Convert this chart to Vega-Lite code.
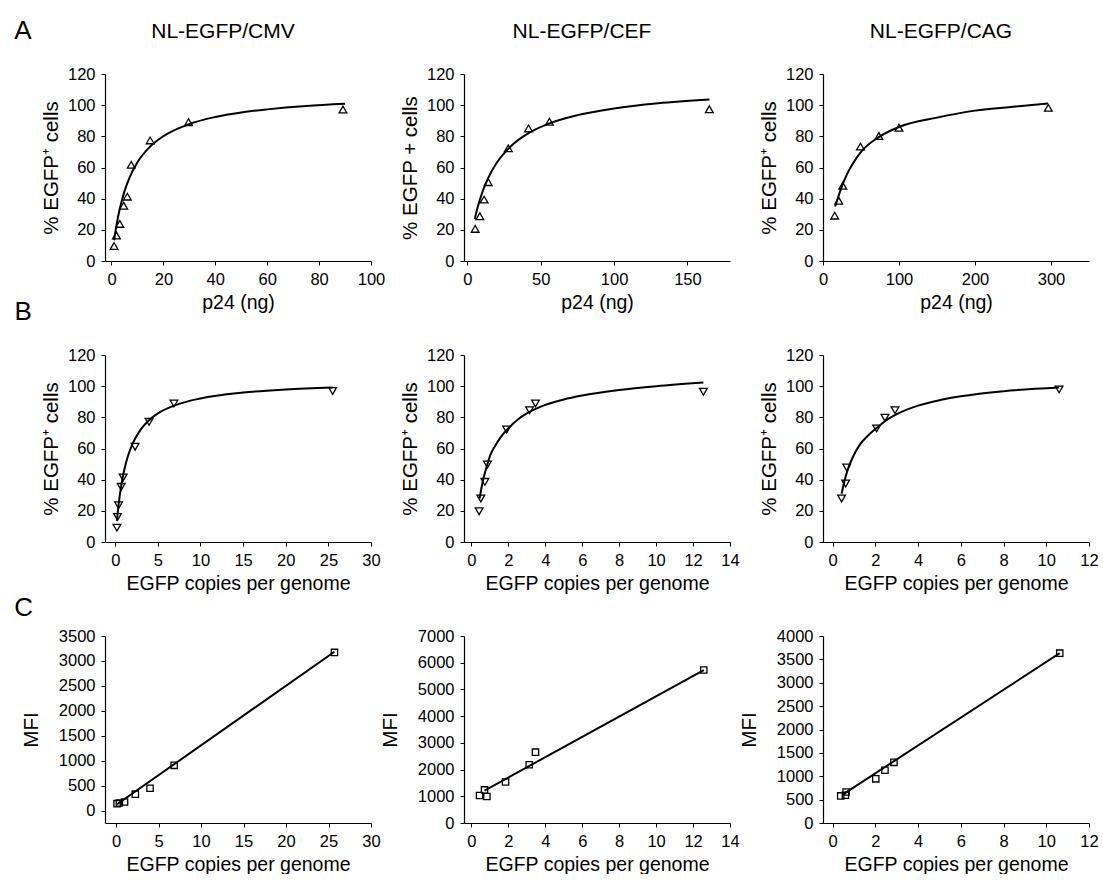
{
  "$schema": "https://vega.github.io/schema/vega-lite/v6.json",
  "background": "white",
  "padding": {"left": 14, "top": 18, "right": 0, "bottom": 0},
  "title": {"text": "A", "anchor": "start", "frame": "bounds", "fontSize": 26, "fontWeight": "normal", "offset": 0, "dy": 23, "dx": 0, "font": "Liberation Sans"},
  "config": {
    "font": "Liberation Sans",
    "view": {"stroke": null},
    "axis": {"grid": false, "domainColor": "black", "tickColor": "black", "labelColor": "black", "titleColor": "black", "labelFontSize": 16.5, "titleFontSize": 19.5, "titleFontWeight": "normal", "tickSize": 4, "labelPadding": 6, "domainWidth": 1.2, "titlePadding": 6, "labelFlush": false, "labelOverlap": false, "format": "d"},
    "axisY": {"titleFontSize": 20.5},
    "title": {"fontSize": 21, "fontWeight": "normal", "color": "black", "offset": 24, "dx": -15, "font": "Liberation Sans"}
  },
  "datasets": {
    "points": [
      {"p": "A1", "x": 1.0, "y": 9.6}, {"p": "A1", "x": 1.9, "y": 16.4}, {"p": "A1", "x": 3.2, "y": 23.8}, {"p": "A1", "x": 4.7, "y": 35.5}, {"p": "A1", "x": 6.1, "y": 41.3}, {"p": "A1", "x": 7.6, "y": 61.7}, {"p": "A1", "x": 14.9, "y": 77.4}, {"p": "A1", "x": 29.7, "y": 89.1}, {"p": "A1", "x": 89.2, "y": 97.2},
      {"p": "A2", "x": 5.3, "y": 20.6}, {"p": "A2", "x": 8.5, "y": 28.7}, {"p": "A2", "x": 11.4, "y": 39.4}, {"p": "A2", "x": 14.2, "y": 50.6}, {"p": "A2", "x": 27.9, "y": 72.3}, {"p": "A2", "x": 41.7, "y": 85.1}, {"p": "A2", "x": 55.9, "y": 89.4}, {"p": "A2", "x": 164.9, "y": 97.4},
      {"p": "A3", "x": 15.4, "y": 29.1}, {"p": "A3", "x": 20.7, "y": 38.7}, {"p": "A3", "x": 26, "y": 48.3}, {"p": "A3", "x": 49.3, "y": 73.4}, {"p": "A3", "x": 73.5, "y": 80.2}, {"p": "A3", "x": 99.9, "y": 85.5}, {"p": "A3", "x": 296.5, "y": 98.3},
      {"p": "B1", "x": 0.2, "y": 9.2}, {"p": "B1", "x": 0.27, "y": 16.1}, {"p": "B1", "x": 0.39, "y": 23.6}, {"p": "B1", "x": 0.7, "y": 35.4}, {"p": "B1", "x": 0.93, "y": 41.4}, {"p": "B1", "x": 2.33, "y": 61.1}, {"p": "B1", "x": 3.97, "y": 77.1}, {"p": "B1", "x": 6.89, "y": 88.9}, {"p": "B1", "x": 25.5, "y": 96.9},
      {"p": "B2", "x": 0.42, "y": 19.7}, {"p": "B2", "x": 0.51, "y": 27.9}, {"p": "B2", "x": 0.73, "y": 38.6}, {"p": "B2", "x": 0.87, "y": 49.7}, {"p": "B2", "x": 1.91, "y": 72.2}, {"p": "B2", "x": 3.15, "y": 84.6}, {"p": "B2", "x": 3.47, "y": 88.9}, {"p": "B2", "x": 12.56, "y": 96.4},
      {"p": "B3", "x": 0.42, "y": 27.9}, {"p": "B3", "x": 0.61, "y": 37.5}, {"p": "B3", "x": 0.66, "y": 47.8}, {"p": "B3", "x": 2.06, "y": 72.9}, {"p": "B3", "x": 2.45, "y": 79.7}, {"p": "B3", "x": 2.92, "y": 84.6}, {"p": "B3", "x": 10.6, "y": 97.9},
      {"p": "C1", "x": 0.12, "y": 138}, {"p": "C1", "x": 0.39, "y": 151}, {"p": "C1", "x": 1.0, "y": 171}, {"p": "C1", "x": 2.27, "y": 328}, {"p": "C1", "x": 4.0, "y": 446}, {"p": "C1", "x": 6.84, "y": 906}, {"p": "C1", "x": 25.7, "y": 3171},
      {"p": "C2", "x": 0.44, "y": 1028}, {"p": "C2", "x": 0.71, "y": 1239}, {"p": "C2", "x": 0.84, "y": 991}, {"p": "C2", "x": 1.85, "y": 1537}, {"p": "C2", "x": 3.13, "y": 2181}, {"p": "C2", "x": 3.47, "y": 2652}, {"p": "C2", "x": 12.58, "y": 5725},
      {"p": "C3", "x": 0.38, "y": 579}, {"p": "C3", "x": 0.6, "y": 593}, {"p": "C3", "x": 0.63, "y": 663}, {"p": "C3", "x": 2.02, "y": 945}, {"p": "C3", "x": 2.45, "y": 1129}, {"p": "C3", "x": 2.87, "y": 1298}, {"p": "C3", "x": 10.63, "y": 3633}
    ],
    "fits": [
      {"p": "A1", "x": 1, "y": 13.3}, {"p": "A1", "x": 2, "y": 23.7}, {"p": "A1", "x": 3, "y": 32.1}, {"p": "A1", "x": 4, "y": 38.9}, {"p": "A1", "x": 5, "y": 44.7}, {"p": "A1", "x": 7, "y": 53.7}, {"p": "A1", "x": 10, "y": 63.4}, {"p": "A1", "x": 15, "y": 73.6}, {"p": "A1", "x": 20, "y": 80.1}, {"p": "A1", "x": 30, "y": 87.9}, {"p": "A1", "x": 40, "y": 92.4}, {"p": "A1", "x": 50, "y": 95.3}, {"p": "A1", "x": 60, "y": 97.3}, {"p": "A1", "x": 75, "y": 99.5}, {"p": "A1", "x": 90, "y": 100.9},
      {"p": "A2", "x": 5, "y": 26.9}, {"p": "A2", "x": 7, "y": 34.5}, {"p": "A2", "x": 10, "y": 43.6}, {"p": "A2", "x": 14, "y": 52.9}, {"p": "A2", "x": 20, "y": 63}, {"p": "A2", "x": 30, "y": 74}, {"p": "A2", "x": 40, "y": 81.1}, {"p": "A2", "x": 55, "y": 88}, {"p": "A2", "x": 75, "y": 93.6}, {"p": "A2", "x": 100, "y": 97.9}, {"p": "A2", "x": 130, "y": 101.2}, {"p": "A2", "x": 165, "y": 103.6},
      {"p": "A3", "x": 16, "y": 35}, {"p": "A3", "x": 20, "y": 41}, {"p": "A3", "x": 25, "y": 48}, {"p": "A3", "x": 30, "y": 54}, {"p": "A3", "x": 40, "y": 63}, {"p": "A3", "x": 50, "y": 70}, {"p": "A3", "x": 75, "y": 80}, {"p": "A3", "x": 100, "y": 86}, {"p": "A3", "x": 150, "y": 92}, {"p": "A3", "x": 200, "y": 96.5}, {"p": "A3", "x": 250, "y": 99}, {"p": "A3", "x": 296, "y": 101},
      {"p": "B1", "x": 0.2, "y": 13.6}, {"p": "B1", "x": 0.3, "y": 19.2}, {"p": "B1", "x": 0.5, "y": 28.5}, {"p": "B1", "x": 0.7, "y": 36.0}, {"p": "B1", "x": 1.0, "y": 44.8}, {"p": "B1", "x": 1.5, "y": 55.3}, {"p": "B1", "x": 2, "y": 62.7}, {"p": "B1", "x": 3, "y": 72.3}, {"p": "B1", "x": 4, "y": 78.3}, {"p": "B1", "x": 5, "y": 82.5}, {"p": "B1", "x": 7, "y": 87.7}, {"p": "B1", "x": 10, "y": 92.1}, {"p": "B1", "x": 15, "y": 95.9}, {"p": "B1", "x": 20, "y": 97.9}, {"p": "B1", "x": 25.5, "y": 99.2},
      {"p": "B2", "x": 0.45, "y": 28}, {"p": "B2", "x": 0.55, "y": 35}, {"p": "B2", "x": 0.7, "y": 43}, {"p": "B2", "x": 0.87, "y": 50}, {"p": "B2", "x": 1.0, "y": 55}, {"p": "B2", "x": 1.3, "y": 62}, {"p": "B2", "x": 1.6, "y": 67.5}, {"p": "B2", "x": 2, "y": 73}, {"p": "B2", "x": 2.5, "y": 78.5}, {"p": "B2", "x": 3, "y": 82.5}, {"p": "B2", "x": 4, "y": 88}, {"p": "B2", "x": 5, "y": 91.5}, {"p": "B2", "x": 6, "y": 94}, {"p": "B2", "x": 8, "y": 97.5}, {"p": "B2", "x": 10, "y": 100}, {"p": "B2", "x": 12.56, "y": 102.4},
      {"p": "B3", "x": 0.42, "y": 31}, {"p": "B3", "x": 0.5, "y": 36}, {"p": "B3", "x": 0.6, "y": 41.5}, {"p": "B3", "x": 0.75, "y": 48}, {"p": "B3", "x": 1.0, "y": 56}, {"p": "B3", "x": 1.3, "y": 63}, {"p": "B3", "x": 1.6, "y": 67.5}, {"p": "B3", "x": 2, "y": 72.5}, {"p": "B3", "x": 2.5, "y": 78}, {"p": "B3", "x": 3, "y": 82}, {"p": "B3", "x": 4, "y": 87.5}, {"p": "B3", "x": 5, "y": 91}, {"p": "B3", "x": 6, "y": 93.5}, {"p": "B3", "x": 8, "y": 96.8}, {"p": "B3", "x": 10.6, "y": 99.2},
      {"p": "C1", "x": 0.12, "y": 125}, {"p": "C1", "x": 25.7, "y": 3185},
      {"p": "C2", "x": 0.71, "y": 1214}, {"p": "C2", "x": 12.58, "y": 5725},
      {"p": "C3", "x": 0.49, "y": 614}, {"p": "C3", "x": 10.63, "y": 3633}
    ]
  },
  "columns": 3,
  "spacing": {"row": 94, "column": 93},
  "bounds": "flush",
  "concat": [
    {
      "width": 266, "height": 187,
      "title": {"text": "NL-EGFP/CMV"},
      "encoding": {
        "x": {"field": "x", "type": "quantitative", "scale": {"domain": [-2.5, 100], "nice": false, "zero": false}, "axis": {"values": [0, 20, 40, 60, 80, 100], "title": "p24 (ng)"}},
        "y": {"field": "y", "type": "quantitative", "scale": {"domain": [0, 120], "nice": false}, "axis": {"values": [0, 20, 40, 60, 80, 100, 120], "title": "% EGFP⁺ cells"}}
      },
      "layer": [
        {"data": {"name": "fits"}, "transform": [{"filter": "datum.p === 'A1'"}], "mark": {"type": "line", "color": "black", "strokeWidth": 2, "interpolate": "monotone"}},
        {"data": {"name": "points"}, "transform": [{"filter": "datum.p === 'A1'"}], "mark": {"type": "point", "shape": "triangle-up", "filled": false, "stroke": "black", "strokeWidth": 1.3, "size": 60, "opacity": 1}}
      ]
    },
    {
      "width": 266, "height": 187,
      "title": {"text": "NL-EGFP/CEF"},
      "encoding": {
        "x": {"field": "x", "type": "quantitative", "scale": {"domain": [-2.3, 179], "nice": false, "zero": false}, "axis": {"values": [0, 50, 100, 150], "title": "p24 (ng)"}},
        "y": {"field": "y", "type": "quantitative", "scale": {"domain": [0, 120], "nice": false}, "axis": {"values": [0, 20, 40, 60, 80, 100, 120], "title": "% EGFP + cells"}}
      },
      "layer": [
        {"data": {"name": "fits"}, "transform": [{"filter": "datum.p === 'A2'"}], "mark": {"type": "line", "color": "black", "strokeWidth": 2, "interpolate": "monotone"}},
        {"data": {"name": "points"}, "transform": [{"filter": "datum.p === 'A2'"}], "mark": {"type": "point", "shape": "triangle-up", "filled": false, "stroke": "black", "strokeWidth": 1.3, "size": 60, "opacity": 1}}
      ]
    },
    {
      "width": 266, "height": 187,
      "title": {"text": "NL-EGFP/CAG"},
      "encoding": {
        "x": {"field": "x", "type": "quantitative", "scale": {"domain": [0, 350], "nice": false, "zero": false}, "axis": {"values": [0, 100, 200, 300], "title": "p24 (ng)"}},
        "y": {"field": "y", "type": "quantitative", "scale": {"domain": [0, 120], "nice": false}, "axis": {"values": [0, 20, 40, 60, 80, 100, 120], "title": "% EGFP⁺ cells"}}
      },
      "layer": [
        {"data": {"name": "fits"}, "transform": [{"filter": "datum.p === 'A3'"}], "mark": {"type": "line", "color": "black", "strokeWidth": 2, "interpolate": "monotone"}},
        {"data": {"name": "points"}, "transform": [{"filter": "datum.p === 'A3'"}], "mark": {"type": "point", "shape": "triangle-up", "filled": false, "stroke": "black", "strokeWidth": 1.3, "size": 60, "opacity": 1}}
      ]
    },
    {
      "width": 266, "height": 187,
      "title": {"text": "B", "anchor": "start", "frame": "bounds", "fontSize": 26, "offset": 22, "font": "Liberation Sans", "dx": -27},
      "encoding": {
        "x": {"field": "x", "type": "quantitative", "scale": {"domain": [-1.2, 30], "nice": false, "zero": false}, "axis": {"values": [0, 5, 10, 15, 20, 25, 30], "title": "EGFP copies per genome"}},
        "y": {"field": "y", "type": "quantitative", "scale": {"domain": [0, 120], "nice": false}, "axis": {"values": [0, 20, 40, 60, 80, 100, 120], "title": "% EGFP⁺ cells"}}
      },
      "layer": [
        {"data": {"name": "fits"}, "transform": [{"filter": "datum.p === 'B1'"}], "mark": {"type": "line", "color": "black", "strokeWidth": 2, "interpolate": "monotone"}},
        {"data": {"name": "points"}, "transform": [{"filter": "datum.p === 'B1'"}], "mark": {"type": "point", "shape": "triangle-down", "filled": false, "stroke": "black", "strokeWidth": 1.3, "size": 60, "opacity": 1}}
      ]
    },
    {
      "width": 266, "height": 187,
      "encoding": {
        "x": {"field": "x", "type": "quantitative", "scale": {"domain": [-0.4, 14], "nice": false, "zero": false}, "axis": {"values": [0, 2, 4, 6, 8, 10, 12, 14], "title": "EGFP copies per genome"}},
        "y": {"field": "y", "type": "quantitative", "scale": {"domain": [0, 120], "nice": false}, "axis": {"values": [0, 20, 40, 60, 80, 100, 120], "title": "% EGFP⁺ cells"}}
      },
      "layer": [
        {"data": {"name": "fits"}, "transform": [{"filter": "datum.p === 'B2'"}], "mark": {"type": "line", "color": "black", "strokeWidth": 2, "interpolate": "monotone"}},
        {"data": {"name": "points"}, "transform": [{"filter": "datum.p === 'B2'"}], "mark": {"type": "point", "shape": "triangle-down", "filled": false, "stroke": "black", "strokeWidth": 1.3, "size": 60, "opacity": 1}}
      ]
    },
    {
      "width": 266, "height": 187,
      "encoding": {
        "x": {"field": "x", "type": "quantitative", "scale": {"domain": [-0.45, 12], "nice": false, "zero": false}, "axis": {"values": [0, 2, 4, 6, 8, 10, 12], "title": "EGFP copies per genome"}},
        "y": {"field": "y", "type": "quantitative", "scale": {"domain": [0, 120], "nice": false}, "axis": {"values": [0, 20, 40, 60, 80, 100, 120], "title": "% EGFP⁺ cells"}}
      },
      "layer": [
        {"data": {"name": "fits"}, "transform": [{"filter": "datum.p === 'B3'"}], "mark": {"type": "line", "color": "black", "strokeWidth": 2, "interpolate": "monotone"}},
        {"data": {"name": "points"}, "transform": [{"filter": "datum.p === 'B3'"}], "mark": {"type": "point", "shape": "triangle-down", "filled": false, "stroke": "black", "strokeWidth": 1.3, "size": 60, "opacity": 1}}
      ]
    },
    {
      "width": 266, "height": 187,
      "title": {"text": "C", "anchor": "start", "frame": "bounds", "fontSize": 26, "offset": 7, "font": "Liberation Sans", "dx": -7},
      "encoding": {
        "x": {"field": "x", "type": "quantitative", "scale": {"domain": [-1.3, 30], "nice": false, "zero": false}, "axis": {"values": [0, 5, 10, 15, 20, 25, 30], "title": "EGFP copies per genome"}},
        "y": {"field": "y", "type": "quantitative", "scale": {"domain": [-250, 3500], "nice": false, "zero": false}, "axis": {"values": [0, 500, 1000, 1500, 2000, 2500, 3000, 3500], "title": "MFI", "titlePadding": 17}}
      },
      "layer": [
        {"data": {"name": "fits"}, "transform": [{"filter": "datum.p === 'C1'"}], "mark": {"type": "line", "color": "black", "strokeWidth": 2}},
        {"data": {"name": "points"}, "transform": [{"filter": "datum.p === 'C1'"}], "mark": {"type": "point", "shape": "square", "filled": false, "stroke": "black", "strokeWidth": 1.3, "size": 40, "opacity": 1}}
      ]
    },
    {
      "width": 266, "height": 187,
      "encoding": {
        "x": {"field": "x", "type": "quantitative", "scale": {"domain": [-0.4, 14], "nice": false, "zero": false}, "axis": {"values": [0, 2, 4, 6, 8, 10, 12, 14], "title": "EGFP copies per genome"}},
        "y": {"field": "y", "type": "quantitative", "scale": {"domain": [0, 7000], "nice": false}, "axis": {"values": [0, 1000, 2000, 3000, 4000, 5000, 6000, 7000], "title": "MFI", "titlePadding": 17}}
      },
      "layer": [
        {"data": {"name": "fits"}, "transform": [{"filter": "datum.p === 'C2'"}], "mark": {"type": "line", "color": "black", "strokeWidth": 2}},
        {"data": {"name": "points"}, "transform": [{"filter": "datum.p === 'C2'"}], "mark": {"type": "point", "shape": "square", "filled": false, "stroke": "black", "strokeWidth": 1.3, "size": 40, "opacity": 1}}
      ]
    },
    {
      "width": 266, "height": 187,
      "encoding": {
        "x": {"field": "x", "type": "quantitative", "scale": {"domain": [-0.45, 12], "nice": false, "zero": false}, "axis": {"values": [0, 2, 4, 6, 8, 10, 12], "title": "EGFP copies per genome"}},
        "y": {"field": "y", "type": "quantitative", "scale": {"domain": [0, 4000], "nice": false}, "axis": {"values": [0, 500, 1000, 1500, 2000, 2500, 3000, 3500, 4000], "title": "MFI", "titlePadding": 17}}
      },
      "layer": [
        {"data": {"name": "fits"}, "transform": [{"filter": "datum.p === 'C3'"}], "mark": {"type": "line", "color": "black", "strokeWidth": 2}},
        {"data": {"name": "points"}, "transform": [{"filter": "datum.p === 'C3'"}], "mark": {"type": "point", "shape": "square", "filled": false, "stroke": "black", "strokeWidth": 1.3, "size": 40, "opacity": 1}}
      ]
    }
  ]
}
